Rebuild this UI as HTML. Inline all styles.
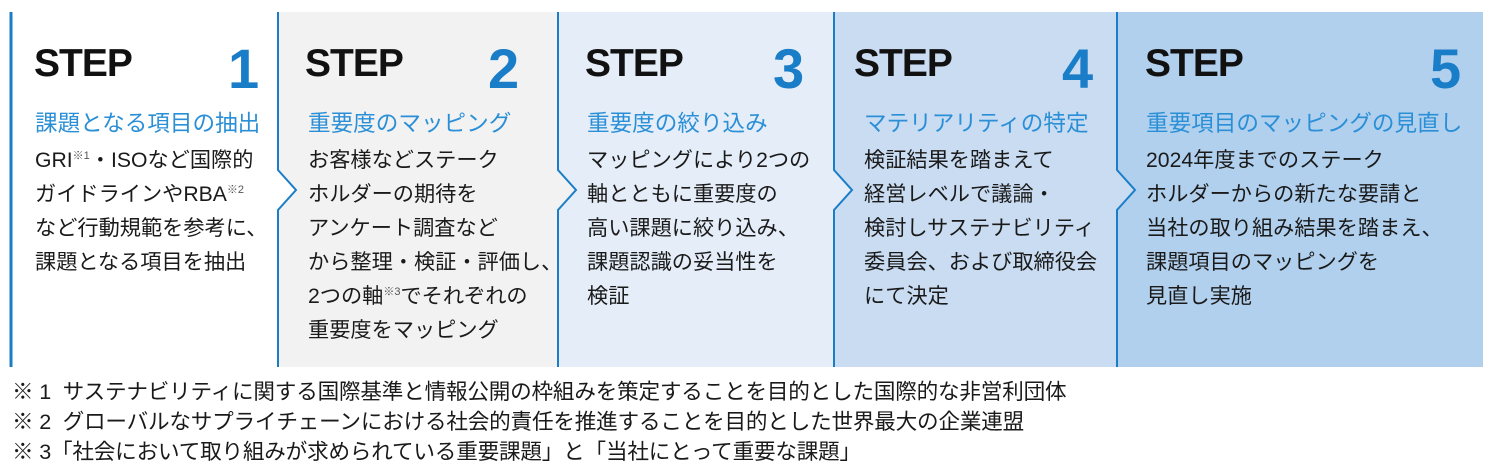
<!DOCTYPE html>
<html><head><meta charset="utf-8"><style>
*{margin:0;padding:0;box-sizing:border-box}
body{width:1493px;height:467px;background:#fff;position:relative;overflow:hidden;font-family:"Liberation Sans","Noto Sans CJK JP",sans-serif;color:#1a1a1a}
.a{position:absolute;white-space:nowrap}
.step{font-weight:bold;font-size:39px;letter-spacing:-1px;color:#111;top:42px}
.num{font-weight:bold;font-size:56px;color:#1a7dc8;top:36px}
.h{font-size:22.6px;color:#2a8fd6;top:109px;line-height:30px}
.b{font-size:21.2px;line-height:34px;top:144px;color:#1a1a1a}
.f{font-size:21.6px;left:12px;line-height:30px;color:#1a1a1a;letter-spacing:-0.2px}
sup{font-size:11px;vertical-align:8px;line-height:0;color:#555}
</style></head><body>
<svg class="a" style="left:0;top:0" width="1493" height="467">
<rect x="10" y="12" width="1473" height="355" fill="#ffffff"/>
<polygon points="278,12 278,170 296,190 278,210 278,367 1483,367 1483,12" fill="#f2f2f2"/>
<polygon points="558,12 558,170 576,190 558,210 558,367 1483,367 1483,12" fill="#e4edf8"/>
<polygon points="834,12 834,170 852,190 834,210 834,367 1483,367 1483,12" fill="#c9dcf2"/>
<polygon points="1117,12 1117,170 1135,190 1117,210 1117,367 1483,367 1483,12" fill="#b1d0ee"/>
<line x1="11" y1="12" x2="11" y2="367" stroke="#1a7dc8" stroke-width="3"/>
<g fill="none" stroke="#1a7dc8" stroke-width="2">
<polyline points="278,12 278,170 296,190 278,210 278,367"/>
<polyline points="558,12 558,170 576,190 558,210 558,367"/>
<polyline points="834,12 834,170 852,190 834,210 834,367"/>
<polyline points="1117,12 1117,170 1135,190 1117,210 1117,367"/>
</g>
</svg>
<div class="a step" style="left:34px">STEP</div><div class="a num" style="left:228px">1</div>
<div class="a step" style="left:305px">STEP</div><div class="a num" style="left:488px">2</div>
<div class="a step" style="left:585px">STEP</div><div class="a num" style="left:773px">3</div>
<div class="a step" style="left:854px">STEP</div><div class="a num" style="left:1062px">4</div>
<div class="a step" style="left:1145px">STEP</div><div class="a num" style="left:1430px">5</div>

<div class="a h" style="left:35px">課題となる項目の抽出</div>
<div class="a h" style="left:308px">重要度のマッピング</div>
<div class="a h" style="left:587px">重要度の絞り込み</div>
<div class="a h" style="left:864px">マテリアリティの特定</div>
<div class="a h" style="left:1146px">重要項目のマッピングの見直し</div>

<div class="a b" style="left:35px">GRI<sup>※1</sup>・ISOなど国際的<br>ガイドラインやRBA<sup>※2</sup><br>など行動規範を参考に、<br>課題となる項目を抽出</div>
<div class="a b" style="left:308px">お客様などステーク<br>ホルダーの期待を<br>アンケート調査など<br>から整理・検証・評価し、<br>2つの軸<sup>※3</sup>でそれぞれの<br>重要度をマッピング</div>
<div class="a b" style="left:587px">マッピングにより2つの<br>軸とともに重要度の<br>高い課題に絞り込み、<br>課題認識の妥当性を<br>検証</div>
<div class="a b" style="left:864px">検証結果を踏まえて<br>経営レベルで議論・<br>検討しサステナビリティ<br>委員会、および取締役会<br>にて決定</div>
<div class="a b" style="left:1146px">2024年度までのステーク<br>ホルダーからの新たな要請と<br>当社の取り組み結果を踏まえ、<br>課題項目のマッピングを<br>見直し実施</div>

<div class="a f" style="top:377px">※ 1&nbsp; サステナビリティに関する国際基準と情報公開の枠組みを策定することを目的とした国際的な非営利団体</div>
<div class="a f" style="top:407px">※ 2&nbsp; グローバルなサプライチェーンにおける社会的責任を推進することを目的とした世界最大の企業連盟</div>
<div class="a f" style="top:437px">※ 3「社会において取り組みが求められている重要課題」と「当社にとって重要な課題」</div>
</body></html>
